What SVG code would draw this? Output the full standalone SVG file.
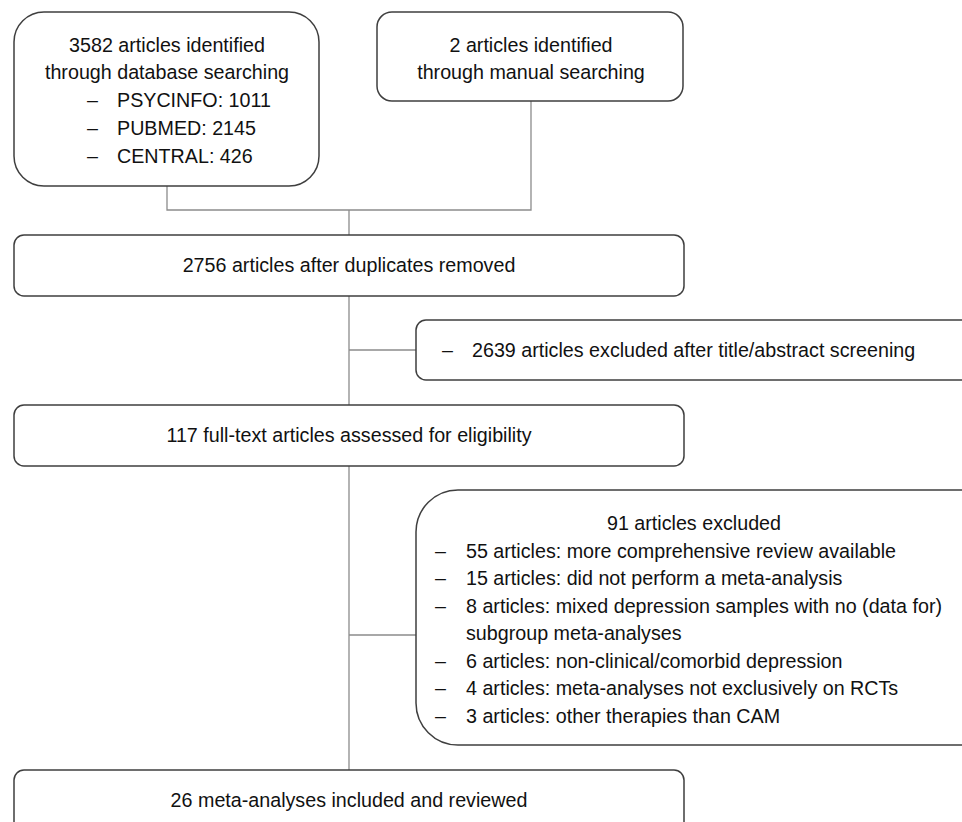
<svg xmlns="http://www.w3.org/2000/svg" width="962" height="822" viewBox="0 0 962 822">
<style>
.box{fill:#ffffff;stroke:#3f3f3f;stroke-width:1.5}
.conn{fill:none;stroke:#8c8c8c;stroke-width:1.3}
text{font-family:"Liberation Sans",Arial,sans-serif;font-size:19.7px;fill:#111111}
.c{text-anchor:middle}
</style>
<rect width="962" height="822" fill="#ffffff"/>
<g id="connectors">
<path class="conn" d="M167,186 V210 H531 V101 M349,210 V235"/>
<path class="conn" d="M349,296 V405 M349,350 H416"/>
<path class="conn" d="M349,466 V770 M349,635 H416"/>
</g>
<g id="n1">
<rect class="box" x="14" y="12" width="305" height="174" rx="30"/>
<text class="c" x="167" y="52">3582 articles identified</text>
<text class="c" x="167" y="79">through database searching</text>
<text x="87" y="107">–</text><text x="117" y="107">PSYCINFO: 1011</text>
<text x="87" y="135">–</text><text x="117" y="135">PUBMED: 2145</text>
<text x="87" y="163">–</text><text x="117" y="163">CENTRAL: 426</text>
</g>
<g id="n2">
<rect class="box" x="377" y="12" width="306" height="89" rx="15"/>
<text class="c" x="531" y="52">2 articles identified</text>
<text class="c" x="531" y="79">through manual searching</text>
</g>
<g id="n3">
<rect class="box" x="14" y="235" width="670" height="61" rx="10"/>
<text class="c" x="349" y="272">2756 articles after duplicates removed</text>
</g>
<g id="n4">
<rect class="box" x="416" y="320" width="600" height="60" rx="10"/>
<text x="442" y="357">–</text><text x="472" y="357">2639 articles excluded after title/abstract screening</text>
</g>
<g id="n5">
<rect class="box" x="14" y="405" width="670" height="61" rx="10"/>
<text class="c" x="349" y="442">117 full-text articles assessed for eligibility</text>
</g>
<g id="n6">
<rect class="box" x="416" y="490" width="600" height="255" rx="42"/>
<text class="c" x="694" y="530">91 articles excluded</text>
<text x="435" y="558">–</text><text x="466" y="558">55 articles: more comprehensive review available</text>
<text x="435" y="585">–</text><text x="466" y="585">15 articles: did not perform a meta-analysis</text>
<text x="435" y="613">–</text><text x="466" y="613">8 articles: mixed depression samples with no (data for)</text>
<text x="466" y="640">subgroup meta-analyses</text>
<text x="435" y="668">–</text><text x="466" y="668">6 articles: non-clinical/comorbid depression</text>
<text x="435" y="695">–</text><text x="466" y="695">4 articles: meta-analyses not exclusively on RCTs</text>
<text x="435" y="723">–</text><text x="466" y="723">3 articles: other therapies than CAM</text>
</g>
<g id="n7">
<rect class="box" x="14" y="770" width="670" height="70" rx="10"/>
<text class="c" x="349" y="807">26 meta-analyses included and reviewed</text>
</g>
</svg>
